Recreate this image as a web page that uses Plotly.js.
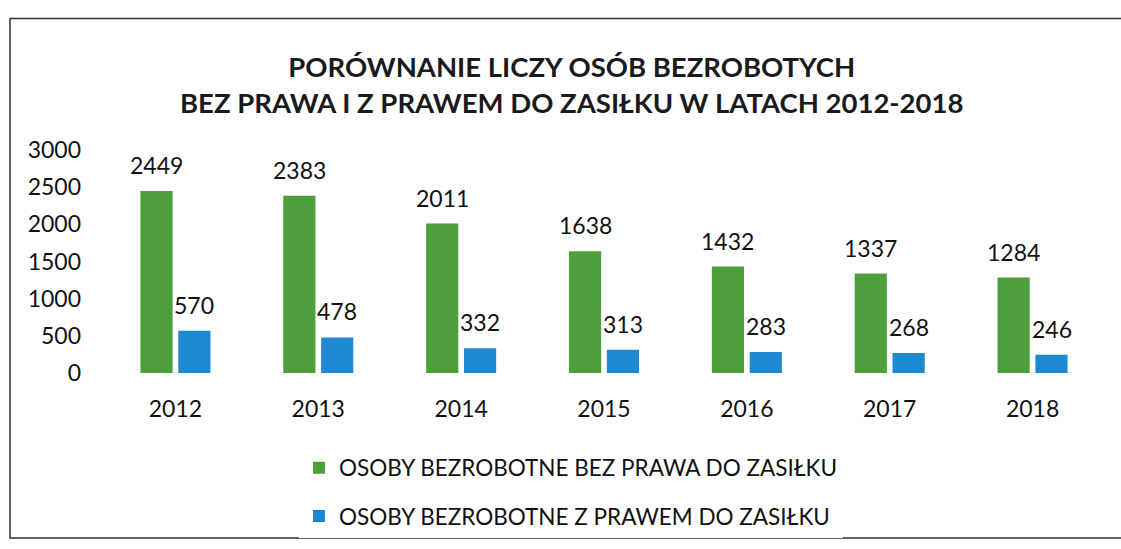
<!DOCTYPE html>
<html>
<head>
<meta charset="utf-8">
<script src="https://cdn.plot.ly/plotly-3.0.1.min.js"></script>
<style>html,body{margin:0;padding:0;background:#fff;}#chart{width:1121px;height:549px;}</style>
</head>
<body>
<div id="chart"></div>
<script>
const years = ['2012','2013','2014','2015','2016','2017','2018'];
const bezPrawa = [2449, 2383, 2011, 1638, 1432, 1337, 1284];
const zPrawem = [570, 478, 332, 313, 283, 268, 246];
const seriesNames = ['OSOBY BEZROBOTNE BEZ PRAWA DO ZASIŁKU', 'OSOBY BEZROBOTNE Z PRAWEM DO ZASIŁKU'];
const yTicks = [0, 500, 1000, 1500, 2000, 2500, 3000];

const font = 'Lato, "Open Sans", sans-serif';
const traces = [
  {type:'bar', x: years, y: bezPrawa, name: seriesNames[0], legendgroup:'a',
   marker:{color:'#4c9f3a'}},
  {type:'bar', x: years, y: zPrawem, name: seriesNames[1], legendgroup:'b',
   marker:{color:'#1f88d2'}}
];
// value labels above bars, built from the data arrays (x = category index)
const annotations = [];
[[bezPrawa, -19], [zPrawem, 19]].forEach(([vals, dx]) => {
  vals.forEach((v, i) => annotations.push({
    x: i, y: v, xref:'x', yref:'y', text: String(v), showarrow:false,
    xshift: dx, yshift: 10, yanchor:'bottom', font:{size:23, family:font, color:'#111'}
  }));
});
const layout = {
  width:1121, height:549,
  margin:{l:104, r:17, t:150, b:174},
  paper_bgcolor:'#fff', plot_bgcolor:'#fff',
  font:{family:font, color:'#111', size:23},
  title:{text:'<b>PORÓWNANIE LICZY OSÓB BEZROBOTYCH<br>BEZ PRAWA I Z PRAWEM DO ZASIŁKU W LATACH 2012-2018</b>',
         font:{size:27.5, family:font, color:'#1a1a1a'}, x:0.51, xanchor:'center', y:0.859, yanchor:'middle'},
  barmode:'group', bargap:0.47, bargroupgap:0.15,
  xaxis:{type:'category', range:[-0.5, years.length - 0.5], showgrid:false, showline:false, zeroline:false, ticks:'',
         tickfont:{size:23}, ticklabelstandoff:20},
  yaxis:{range:[0,3000], tickvals:yTicks, showgrid:false, showline:false, zeroline:false,
         ticks:'', tickfont:{size:23}, ticklabelstandoff:22},
  annotations: annotations,
  showlegend:true,
  legend:{orientation:'v', x:0.195, xanchor:'left', y:-0.33, yanchor:'top',
          font:{size:22.5}, traceorder:'grouped', tracegroupgap:16, itemwidth:30},
  shapes:[
    {type:'rect', xref:'paper', yref:'paper', x0:-0.094, x1:1.02, y0:-0.74, y1:1.59,
     line:{color:'#333', width:1.5}}
  ]
};
Plotly.newPlot('chart', traces, layout, {displayModeBar:false, staticPlot:true});
</script>
</body>
</html>
